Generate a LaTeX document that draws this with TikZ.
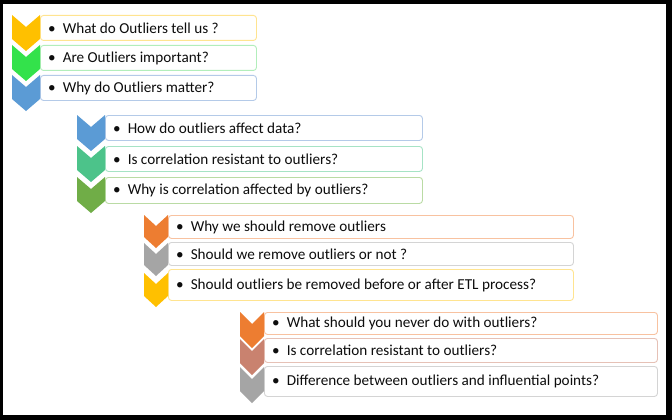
\documentclass[tikz,border=0pt]{standalone}
\usepackage{fontspec}
\setmainfont{Carlito}
\definecolor{cyel}{HTML}{FFC000}
\definecolor{cgrn}{HTML}{33E24B}
\definecolor{cblu}{HTML}{5B9BD5}
\definecolor{cteal}{HTML}{4CC38A}
\definecolor{colive}{HTML}{70AD47}
\definecolor{corg}{HTML}{ED7D31}
\definecolor{cgry}{HTML}{A5A5A5}
\definecolor{cbrn}{HTML}{C9826F}
\definecolor{lyel}{HTML}{FFE490}
\definecolor{lgrn}{HTML}{B2EEBB}
\definecolor{lblu}{HTML}{B4CAE8}
\definecolor{lteal}{HTML}{A6E3C5}
\definecolor{lolive}{HTML}{BADBA4}
\definecolor{lorg}{HTML}{F8C2A0}
\definecolor{lgry}{HTML}{D4D4D4}
\definecolor{lbrn}{HTML}{E6C1B6}
\definecolor{txt}{HTML}{0D0D0D}
\tikzset{
  itembox/.style={rounded corners=3pt, line width=0.9pt, fill=white, anchor=north west, inner sep=0pt},
  itemtext/.style={anchor=west, inner sep=0pt, text=txt, font=\fontsize{15.2}{18}\selectfont},
}
\newcommand\chevshape[6]{%
  \fill[#6] (#1,#2) -- ++(#3/2,#5) -- ++(#3/2,-#5) -- ++(0,#4) -- ++(-#3/2,#5) -- ++(-#3/2,-#5) -- cycle;}
\newcommand\itm[7]{%
  \node[itembox, draw=#6, minimum width=#4pt, minimum height=#5pt] (#1) at (#2,#3) {};
  \node[itemtext] (#1t) at ([xshift=8pt]#1.west) {\textbullet\hspace{7pt}#7};}
\begin{document}
\begin{tikzpicture}[x=1pt,y=-1pt]
\useasboundingbox (0,0) rectangle (672,420);
\fill[black] (0,0) rectangle (672,420);
\fill[white] (3,4) rectangle (666,415);
% group 1
\itm{a1}{40}{15}{216}{25}{lyel}{What do Outliers tell us ?}
\itm{a2}{40}{45}{216}{25}{lgrn}{Are Outliers important?}
\itm{a3}{40}{75}{216}{25}{lblu}{Why do Outliers matter?}
\chevshape{12}{15}{28}{24}{12}{cyel}
\chevshape{12}{45}{28}{24}{12}{cgrn}
\chevshape{12}{75}{28}{24}{12}{cblu}
% group 2
\itm{b1}{105}{115}{317}{25}{lblu}{How do outliers affect data?}
\itm{b2}{105}{146}{317}{25}{lteal}{Is correlation resistant to outliers?}
\itm{b3}{105}{177}{317}{26}{lolive}{Why is correlation affected by outliers?}
\chevshape{77}{115}{28}{24}{12}{cblu}
\chevshape{77}{146}{28}{24}{12}{cteal}
\chevshape{77}{177}{28}{24}{12}{colive}
% group 3
\itm{c1}{168}{215}{405}{23}{lorg}{Why we should remove outliers}
\itm{c2}{168}{242}{405}{23}{lgry}{Should we remove outliers or not ?}
\itm{c3}{168}{269}{405}{31}{lyel}{Should outliers be removed before or after ETL process?}
\chevshape{144}{215}{24}{22}{11}{corg}
\chevshape{144}{243}{24}{22}{11}{cgry}
\chevshape{144}{273}{24}{23}{11}{cyel}
% group 4
\itm{d1}{264}{312}{393}{22}{lorg}{What should you never do with outliers?}
\itm{d2}{264}{338}{393}{24}{lbrn}{Is correlation resistant to outliers?}
\itm{d3}{264}{366}{393}{30}{lgry}{Difference between outliers and influential points?}
\chevshape{240}{312}{24}{24}{12}{corg}
\chevshape{240}{339}{24}{24}{12}{cbrn}
\chevshape{240}{367}{24}{24}{12}{cgry}
\end{tikzpicture}
\end{document}
